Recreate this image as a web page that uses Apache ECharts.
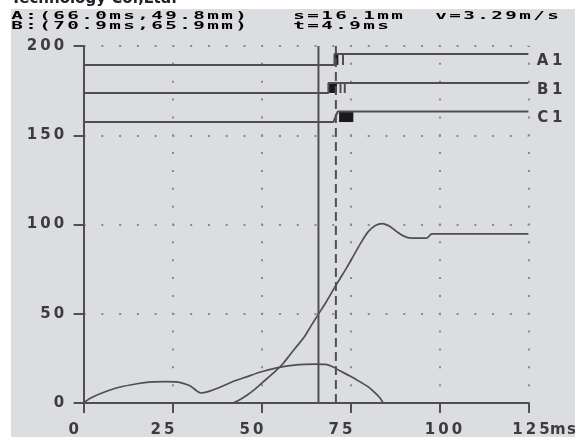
<!DOCTYPE html>
<html><head><meta charset="utf-8">
<script src="https://cdn.jsdelivr.net/npm/echarts/dist/echarts.min.js"></script>
<style>html,body{margin:0;padding:0;background:#fff}#c{width:575px;height:437px}</style>
</head><body><div id="c"></div>
<script>
// ---- tick labels ----
const xTickLabels = ['0', '25', '50', '75', '100', '125ms'];
const yTickLabels = ['0', '50', '100', '150', '200'];

// ---- analog curves (ms, mm) ----
const dispT = [42, 44, 46, 48, 50, 52, 54, 56, 58, 60, 62, 64, 66, 68, 70.9, 72, 74, 76, 78, 80, 82, 84, 86, 88, 90, 92, 96.4, 97.9, 125];
const dispV = [0, 2, 4.5, 7.5, 11, 14.5, 18, 22, 27, 32, 37, 43.5, 49.8, 56, 65.9, 69.5, 76, 83, 90, 96, 99.5, 100.5, 99, 96, 93.5, 92.4, 92.4, 94.7, 94.7];

const velT = [0, 2, 5, 10, 15, 19, 23, 26, 28, 30, 32, 33, 35, 38, 42, 46, 50, 54, 58, 62, 65, 68, 70, 72, 75, 78, 80, 82, 83.3, 84.2];
const velV = [0, 2.8, 5.5, 8.8, 10.8, 11.8, 12, 11.8, 11, 9.5, 6.5, 5.6, 6.4, 8.5, 12, 14.8, 17.5, 19.5, 20.9, 21.6, 21.8, 21.6, 20.3, 18, 15, 11.5, 9, 5.5, 2.8, 0];

// ---- cursors ----
const cursorA = 66.0;
const cursorB = 70.9;

// ---- header texts ----
const headerRow1 = ['A:(66.0ms,49.8mm)', 's=16.1mm', 'v=3.29m/s'];
const headerRow2 = ['B:(70.9ms,65.9mm)', 't=4.9ms'];
const brandText = 'Technology Co.,Ltd.';

// ---- digital traces ----
const traceNames = ['A1', 'B1', 'C1'];
const traceLow = [189.4, 173.7, 157.4];
const traceHigh = [195.5, 179.3, 163.3];
const edgeStart = [70.5, 68.8, 70.2];
const edgeEnd = [70.5, 68.8, 71.4];
const extraEdges = [[72.9], [72.2, 73.4], []];
const burstStart = [70.5, 68.8, 71.8];
const burstEnd = [71.6, 71.2, 75.8];

// ---- styles ----
const BG = '#dcdde1';
const LINE = '#4f4f50';
const TXT = '#3c3c3e';
const MONO = '"DejaVu Sans Mono", monospace';
const SANS = '"DejaVu Sans", sans-serif';

function cells(s, key) { return s.split('').map(c => '{' + key + '|' + c + '}').join(''); }

const chart = echarts.init(document.getElementById('c'), null, { renderer: 'canvas' });

const zipXY = (t, v) => t.map((x, i) => [x, v[i]]);

const series = [];
series.push({ type: 'line', data: zipXY(dispT, dispV), smooth: 0.3, symbol: 'none',
  lineStyle: { color: LINE, width: 1.7 }, silent: true, z: 3 });
series.push({ type: 'line', data: zipXY(velT, velV), smooth: 0.3, symbol: 'none',
  lineStyle: { color: LINE, width: 1.7 }, silent: true, z: 3 });
series.push({ type: 'line', data: [[cursorA, 0], [cursorA, 200]], symbol: 'none',
  lineStyle: { color: LINE, width: 2 }, silent: true, z: 4 });
series.push({ type: 'line', data: [[cursorB, 0], [cursorB, 200]], symbol: 'none',
  lineStyle: { color: LINE, width: 2, type: [9, 5] }, silent: true, z: 4 });

traceNames.forEach((name, i) => {
  const lo = traceLow[i], hi = traceHigh[i];
  const d = [[0, lo], [edgeStart[i], lo], [edgeEnd[i], hi]];
  extraEdges[i].forEach(t => { d.push([t, hi], [t, lo], [t, hi]); });
  d.push([125, hi]);
  series.push({
    type: 'line', name: name, data: d, symbol: 'none', silent: true, z: 3,
    lineStyle: { color: LINE, width: 2 },
    endLabel: {
      show: true, formatter: () => cells(name, 'e'), offset: [-1, 7],
      rich: { e: { fontFamily: SANS, fontWeight: 'bold', fontSize: 15, width: 14.5, align: 'center', color: TXT } }
    },
    markArea: {
      silent: true, itemStyle: { color: '#1a1a1a' },
      data: [[{ coord: [burstStart[i], lo] }, { coord: [burstEnd[i], hi] }]]
    }
  });
});

const SX = 1.75;
const headRich = { h: { fontFamily: MONO, fontWeight: 'bold', fontSize: 11, width: 14 / SX, align: 'center', color: TXT } };
function headText(s, x, y) {
  return { type: 'text', x: x, y: y, scaleX: SX, z: 10,
    style: { text: cells(s, 'h'), rich: headRich, verticalAlign: 'middle', align: 'left' } };
}

const xRich = {
  x: { fontFamily: SANS, fontWeight: 'bold', fontSize: 15, width: 13.5, align: 'center', color: TXT },
  pr: { width: 20 }, pl4: { width: 8 }, pl5: { width: 32 }
};
const yRich = { y: { fontFamily: SANS, fontWeight: 'bold', fontSize: 15, width: 13.5, align: 'center', color: TXT } };

chart.setOption({
  animation: false,
  backgroundColor: BG,
  grid: { left: 83.6, right: 46.6, top: 46, bottom: 34, containLabel: false, outerBoundsMode: 'none' },
  xAxis: {
    type: 'value', min: 0, max: 125, interval: 25,
    axisLine: { show: true, onZero: false, lineStyle: { color: LINE, width: 2 } },
    axisTick: { show: true, length: 10, lineStyle: { color: LINE, width: 2 } },
    splitLine: { show: true, lineStyle: { color: '#8a8a8e', width: 2, type: [2, 15.85], dashOffset: 1 } },
    axisLabel: {
      show: true, margin: 20, fontSize: 15, showMinLabel: true, showMaxLabel: true, hideOverlap: false,
      formatter: (v) => {
        const i = Math.round(v / 25);
        let t = cells(xTickLabels[i], 'x');
        if (i < 4) t = t + '{pr| }';
        else if (i === 4) t = '{pl4| }' + t;
        else t = '{pl5| }' + t;
        return t;
      },
      rich: xRich
    }
  },
  yAxis: {
    type: 'value', min: 0, max: 200, interval: 50,
    axisLine: { show: true, onZero: false, lineStyle: { color: LINE, width: 2 } },
    axisTick: { show: true, length: 10, lineStyle: { color: LINE, width: 2 } },
    splitLine: { show: true, lineStyle: { color: '#8a8a8e', width: 2, type: [2, 15.76], dashOffset: 0 } },
    axisLabel: {
      show: true, margin: 18, fontSize: 15, showMinLabel: true, showMaxLabel: true,
      formatter: (v) => cells(yTickLabels[Math.round(v / 50)], 'y'),
      rich: yRich
    }
  },
  graphic: [
    { type: 'rect', shape: { x: 0, y: 0, width: 575, height: 9 }, style: { fill: '#ffffff' }, z: 9 },
    { type: 'rect', shape: { x: 0, y: 0, width: 11, height: 437 }, style: { fill: '#ffffff' }, z: 9 },
    { type: 'text', x: 177, y: 7, z: 10, style: { text: brandText, font: 'bold 15px "DejaVu Sans"', fill: '#222', align: 'right', verticalAlign: 'bottom' } },
    headText(headerRow1[0], 10, 16),
    headText(headerRow1[1], 292, 16),
    headText(headerRow1[2], 434, 16),
    headText(headerRow2[0], 10, 26),
    headText(headerRow2[1], 292, 26)
  ],
  series: series
});
</script>
</body></html>
